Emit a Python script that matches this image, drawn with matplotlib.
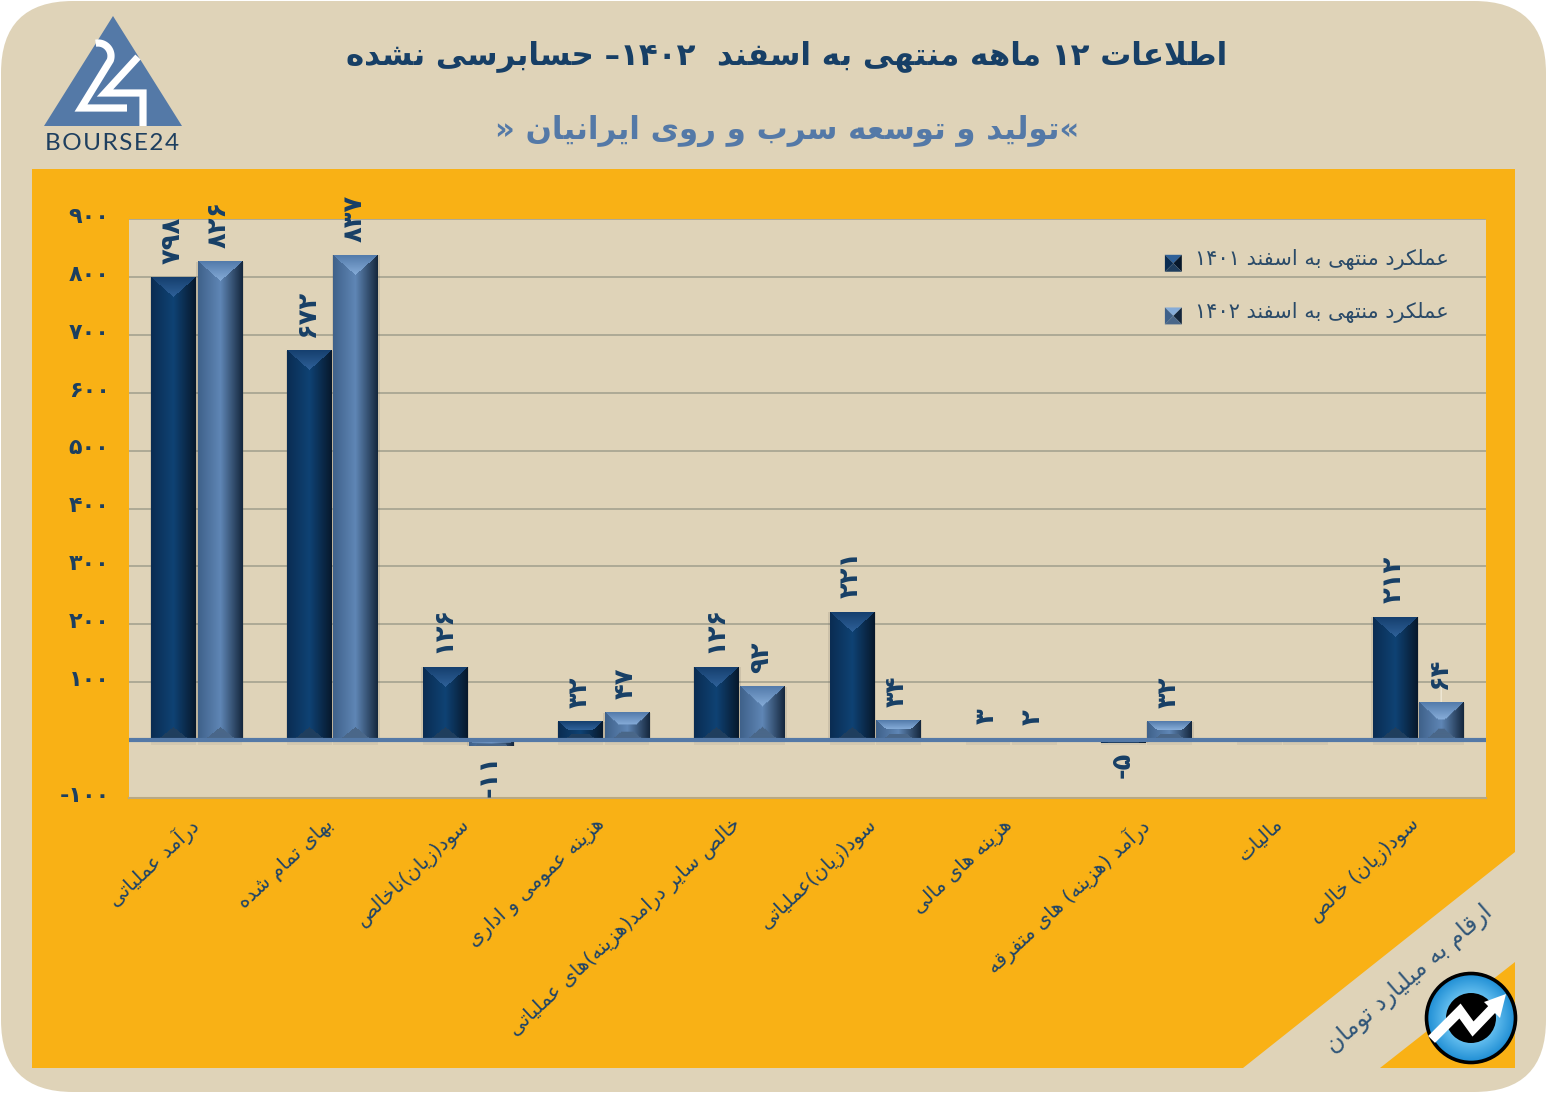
import numpy as np
import matplotlib
matplotlib.use("Agg")
import matplotlib.pyplot as plt
from matplotlib.legend_handler import HandlerBase
from matplotlib.patches import Circle, FancyBboxPatch, Patch, Polygon
from matplotlib.transforms import ScaledTranslation

categories = ["درآمد عملیاتی", "بهای تمام شده", "سود(زیان)ناخالص", "هزینه عمومی و اداری",
              "خالص سایر درامد(هزینه)های عملیاتی", "سود(زیان)عملیاتی", "هزینه های مالی",
              "درآمد (هزینه) های متفرقه", "مالیات", "سود(زیان) خالص"]
values_1401 = [798, 672, 126, 32, 126, 221, 3, -5, 0, 212]
values_1402 = [826, 837, -11, 47, 92, 34, 2, 32, 0, 64]
y_ticks = [-100, 0, 100, 200, 300, 400, 500, 600, 700, 800, 900]
legend_labels = ["عملکرد منتهی به اسفند ۱۴۰۱", "عملکرد منتهی به اسفند ۱۴۰۲"]
title_text = "اطلاعات ۱۲ ماهه منتهی به اسفند  ۱۴۰۲– حسابرسی نشده"
subtitle_text = "\u00ab" + "تولید و توسعه سرب و روی ایرانیان " + "\u00bb"
unit_text = "ارقام به میلیارد تومان"

BEIGE = "#dfd3b8"
ORANGE = "#f9b115"
NAVY = "#173f66"
STEEL = "#5479a7"

# colours of a bar: left, centre, right, top from, top to, bottom
PAL_1401 = ["#0a2c52", "#0f4274", "#07182b", "#153f6e", "#2f6199", "#1f3e5e"]
PAL_1402 = ["#3f618a", "#5f86b5", "#14263c", "#527aaa", "#86acd8", "#4a6789"]

# contextual forms: isolated, final, initial, medial
FORMS = {
    "ا": (0xFE8D, 0xFE8E), "آ": (0xFE81, 0xFE82), "د": (0xFEA9, 0xFEAA), "ذ": (0xFEAB, 0xFEAC),
    "ر": (0xFEAD, 0xFEAE), "ز": (0xFEAF, 0xFEB0), "ژ": (0xFB8A, 0xFB8B), "و": (0xFEED, 0xFEEE),
    "ب": (0xFE8F, 0xFE90, 0xFE91, 0xFE92), "پ": (0xFB56, 0xFB57, 0xFB58, 0xFB59),
    "ت": (0xFE95, 0xFE96, 0xFE97, 0xFE98), "ث": (0xFE99, 0xFE9A, 0xFE9B, 0xFE9C),
    "ج": (0xFE9D, 0xFE9E, 0xFE9F, 0xFEA0), "چ": (0xFB7A, 0xFB7B, 0xFB7C, 0xFB7D),
    "ح": (0xFEA1, 0xFEA2, 0xFEA3, 0xFEA4), "خ": (0xFEA5, 0xFEA6, 0xFEA7, 0xFEA8),
    "س": (0xFEB1, 0xFEB2, 0xFEB3, 0xFEB4), "ش": (0xFEB5, 0xFEB6, 0xFEB7, 0xFEB8),
    "ص": (0xFEB9, 0xFEBA, 0xFEBB, 0xFEBC), "ض": (0xFEBD, 0xFEBE, 0xFEBF, 0xFEC0),
    "ط": (0xFEC1, 0xFEC2, 0xFEC3, 0xFEC4), "ظ": (0xFEC5, 0xFEC6, 0xFEC7, 0xFEC8),
    "ع": (0xFEC9, 0xFECA, 0xFECB, 0xFECC), "غ": (0xFECD, 0xFECE, 0xFECF, 0xFED0),
    "ف": (0xFED1, 0xFED2, 0xFED3, 0xFED4), "ق": (0xFED5, 0xFED6, 0xFED7, 0xFED8),
    "ک": (0xFB8E, 0xFB8F, 0xFB90, 0xFB91), "گ": (0xFB92, 0xFB93, 0xFB94, 0xFB95),
    "ل": (0xFEDD, 0xFEDE, 0xFEDF, 0xFEE0), "م": (0xFEE1, 0xFEE2, 0xFEE3, 0xFEE4),
    "ن": (0xFEE5, 0xFEE6, 0xFEE7, 0xFEE8), "ه": (0xFEE9, 0xFEEA, 0xFEEB, 0xFEEC),
    "ی": (0xFBFC, 0xFBFD, 0xFBFE, 0xFBFF),
}
MIRROR = {"(": ")", ")": "("}
FA_DIGITS = "۰۱۲۳۴۵۶۷۸۹"


def fa_number(v):
    digits = "".join(FA_DIGITS[int(c)] for c in str(abs(v)))
    return "-" + digits if v < 0 else digits


def shape(text):
    # matplotlib has no bidi, so pick the joined forms and lay the string out visually
    text = text.replace("لا", "\uFEFB")
    out = []
    for i, c in enumerate(text):
        if c == "\uFEFB":
            joins_prev = i > 0 and text[i - 1] in FORMS and len(FORMS[text[i - 1]]) == 4
            out.append("\uFEFC" if joins_prev else "\uFEFB")
        elif c in FORMS:
            forms = FORMS[c]
            prev = text[i - 1] if i > 0 else ""
            nxt = text[i + 1] if i + 1 < len(text) else ""
            joins_prev = prev in FORMS and len(FORMS[prev]) == 4
            joins_next = len(forms) == 4 and (nxt in FORMS or nxt == "\uFEFB")
            if joins_prev and joins_next:
                out.append(chr(forms[3]))
            elif joins_next:
                out.append(chr(forms[2]))
            elif joins_prev:
                out.append(chr(forms[1]))
            else:
                out.append(chr(forms[0]))
        else:
            out.append(MIRROR.get(c, c))
    out = out[::-1]
    # digit runs stay left to right
    result = []
    run = []
    for c in out:
        if c in FA_DIGITS:
            run.append(c)
        else:
            result.extend(run[::-1])
            run = []
            result.append(c)
    result.extend(run[::-1])
    return "".join(result)


def rgb(hex_color):
    return np.array(matplotlib.colors.to_rgb(hex_color))


def bevel_image(w, h, pal):
    left, mid, right, top_a, top_b, bottom = [rgb(c) for c in pal]
    x = (np.arange(w) + 0.5) / w
    y = np.arange(h) + 0.5
    xx, yy = np.meshgrid(x, y)
    img = np.zeros((h, w, 3))
    for k in range(3):
        img[:, :, k] = np.interp(xx, [0, 0.5, 1], [left[k], mid[k], right[k]])
    tent = 1 - np.abs(2 * xx - 1)
    tent_low = np.clip(1 - np.abs(2 * xx - 1) / 0.72, 0, 1)
    top_depth = min(20, 0.45 * h)
    bottom_depth = min(13, 0.3 * h)
    top_mask = yy < np.minimum(20 * tent, top_depth)
    bottom_mask = (h - yy) < np.minimum(13 * tent_low, bottom_depth)
    for k in range(3):
        top = top_a[k] + (top_b[k] - top_a[k]) * np.clip(yy / max(top_depth, 1), 0, 1)
        img[:, :, k] = np.where(top_mask, top, img[:, :, k])
        img[:, :, k] = np.where(bottom_mask, bottom[k], img[:, :, k])
    return img


def draw_bevel(ax, bars, pal):
    for r in bars:
        box = r.get_window_extent()
        w = max(int(round(box.width)), 2)
        h = max(int(round(box.height)), 2)
        ax.imshow(bevel_image(w, h, pal), aspect="auto", zorder=3, interpolation="bilinear",
                  extent=(r.get_x(), r.get_x() + r.get_width(),
                          min(r.get_y(), r.get_y() + r.get_height()),
                          max(r.get_y(), r.get_y() + r.get_height())))
        # soft shadow round the bar and under the axis line
        ax.bar(r.get_x() + r.get_width() / 2, r.get_height(), r.get_width() * 1.07, color="#5c5a50", alpha=0.14, zorder=2)
        ax.bar(r.get_x() + r.get_width() / 2, -9, r.get_width(), color="#6b6f70", alpha=0.1, zorder=2)


class BevelHandler(HandlerBase):
    def create_artists(self, legend, orig_handle, xdescent, ydescent, width, height, fontsize, trans):
        pal = orig_handle.pal
        s = 12.2
        x0 = width - s
        y0 = height / 2 - s / 2 - 4
        c = (x0 + s / 2, y0 + s / 2)
        a, b, d, e = (x0, y0), (x0 + s, y0), (x0 + s, y0 + s), (x0, y0 + s)
        faces = [([e, d, c], pal[4]), ([a, e, c], pal[0]), ([b, d, c], pal[2]), ([a, b, c], pal[5])]
        return [Polygon(p, closed=True, facecolor=col, edgecolor="none", transform=trans) for p, col in faces]


fig = plt.figure(figsize=(15.47, 10.94), dpi=100, facecolor="white")

# page decoration in pixel coordinates
bg = fig.add_axes([0, 0, 1, 1], zorder=0)
bg.set_xlim(0, 1547)
bg.set_ylim(1094, 0)
bg.axis("off")
bg.add_patch(FancyBboxPatch((1, 1), 1545, 1091, boxstyle="round,pad=0,rounding_size=72",
                            facecolor=BEIGE, edgecolor="none"))
bg.add_patch(Polygon([(32, 169), (1515, 169), (1515, 852), (1243, 1068), (32, 1068)], facecolor=ORANGE, edgecolor="none"))
bg.add_patch(Polygon([(1515, 962), (1515, 1068), (1380, 1068)], facecolor=ORANGE, edgecolor="none"))

# logo top left
bg.add_patch(Polygon([(113, 16), (182, 126), (44, 126)], facecolor=STEEL, edgecolor="none"))
curve_t = np.linspace(-1.75, 0.35, 30)
two_x = list(98 + 13 * np.cos(curve_t)) + [81, 127]
two_y = list(56 + 13 * np.sin(curve_t)) + [108, 108]
bg.plot(two_x, two_y, color="white", lw=5.2, solid_joinstyle="miter", solid_capstyle="butt")
bg.plot([138, 105, 143, 143], [57, 93, 93, 126], color="white", lw=5.2, solid_joinstyle="miter", solid_capstyle="butt")
bg.text(112.5, 144, "\u200a".join("BOURSE24"), family=["Lato", "DejaVu Sans"], fontsize=17.5, color="#1e3f5f",
        ha="center", va="center")

# logo bottom right
yy, xx = np.mgrid[-1:1:200j, -1:1:200j]
dist = np.sqrt(xx ** 2 + yy ** 2)
c_in = rgb("#6cc4f2")
c_out = rgb("#1f8ed4")
disc = np.zeros((200, 200, 3))
for k in range(3):
    disc[:, :, k] = c_in[k] + (c_out[k] - c_in[k]) * np.clip((dist - 0.5) / 0.5, 0, 1)
im = bg.imshow(disc, extent=(1427, 1515, 1062, 974), aspect="auto", zorder=2)
clip = Circle((1471, 1018), 44, transform=bg.transData)
im.set_clip_path(clip)
bg.add_patch(Circle((1471, 1018), 44.5, facecolor="none", edgecolor="black", lw=2.6, zorder=3))
bg.add_patch(Circle((1471, 1018), 25, facecolor="black", edgecolor="none", zorder=3))
bg.plot([1435, 1460, 1473, 1496], [1036, 1011, 1029, 1005], color="white", lw=7, solid_joinstyle="miter", zorder=4)
bg.add_patch(Polygon([(1506, 994), (1500, 1018), (1484, 1002)], facecolor="white", edgecolor="none", zorder=4))
bg.set_xlim(0, 1547)
bg.set_ylim(1094, 0)

bg.text(787, 56, shape(title_text), fontsize=22.2, fontweight="bold", color=NAVY, ha="center", va="center")
bg.text(787, 131, shape(subtitle_text), fontsize=22.2, fontweight="bold", color=STEEL, ha="center", va="center")
bg.text(1409, 979, shape(unit_text), fontsize=17, color="#2f5578", ha="center", va="center",
        rotation=41, rotation_mode="anchor")

# chart
ax = fig.add_axes([129 / 1547, (1094 - 798) / 1094, 1357 / 1547, 579 / 1094], zorder=1)
ax.set_facecolor(BEIGE)
x = np.arange(len(categories))
bars1 = ax.bar(x - 0.17, values_1401, 0.33, color=PAL_1401[1], zorder=3)
bars2 = ax.bar(x + 0.17, values_1402, 0.33, color=PAL_1402[1], zorder=3)
ax.set_xlim(-0.5, len(categories) - 0.5)
ax.set_ylim(-100, 900)
draw_bevel(ax, bars1, PAL_1401)
draw_bevel(ax, bars2, PAL_1402)
ax.set_xlim(-0.5, len(categories) - 0.5)
ax.set_ylim(-100, 900)

ax.set_yticks(y_ticks)
ax.set_yticklabels(["" if v == 0 else fa_number(v) for v in y_ticks], fontsize=16, fontweight="bold", color="#1c3f60")
ax.set_xticks(x)
ax.set_xticklabels([shape(c) for c in categories], rotation=43, ha="right", va="top", rotation_mode="anchor",
                   fontsize=14.3, color="#1f4467")
ax.tick_params(axis="y", length=0, pad=16)
ax.tick_params(axis="x", length=0, pad=17)
for lab in ax.get_yticklabels():
    lab.set_transform(lab.get_transform() + ScaledTranslation(2 / 72, 3 / 72, fig.dpi_scale_trans))
for lab in ax.get_xticklabels():
    lab.set_transform(lab.get_transform() + ScaledTranslation(-6 / 72, 5 / 72, fig.dpi_scale_trans))
ax.grid(axis="y", color="#a9a693", lw=1.3, zorder=1)
ax.set_axisbelow(True)
for name in ["top", "right", "left"]:
    ax.spines[name].set_visible(False)
ax.spines["bottom"].set_color("#b8a883")
ax.spines["bottom"].set_linewidth(1.5)
ax.axhline(0, color=STEEL, lw=3, zorder=4)

for bars, vals in [(bars1, values_1401), (bars2, values_1402)]:
    for r, v in zip(bars, vals):
        if v == 0:
            continue
        off = 10 if v > 0 else -6
        ax.annotate(fa_number(v), (r.get_x() + r.get_width() / 2 - 0.01, v), xytext=(0, off),
                    textcoords="offset points", rotation=90, ha="center",
                    va="bottom" if v > 0 else "top", fontsize=18.5, fontweight="bold", color=NAVY, zorder=5)

# faint leader on the last bar
last = bars2[-1]
ax.annotate("", (last.get_x() + last.get_width() / 2, values_1402[-1]), xytext=(0, 12), textcoords="offset points",
            arrowprops=dict(arrowstyle="-", color="#efe8d6", lw=1, shrinkA=0, shrinkB=0), zorder=2)

h1 = Patch(label=shape(legend_labels[0]))
h1.pal = PAL_1401
h2 = Patch(label=shape(legend_labels[1]))
h2.pal = PAL_1402
leg = ax.legend(handles=[h1, h2], handler_map={Patch: BevelHandler()}, frameon=False,
                loc="upper left", bbox_to_anchor=((1161 - 129) / 1357, (798 - 249) / 579),
                fontsize=15, labelcolor="#2a4a68", labelspacing=1.52, handlelength=1.0,
                handletextpad=0.63, borderpad=0, borderaxespad=0)
leg.set_zorder(6)

fig.savefig("out.png", dpi=100, facecolor="white")
